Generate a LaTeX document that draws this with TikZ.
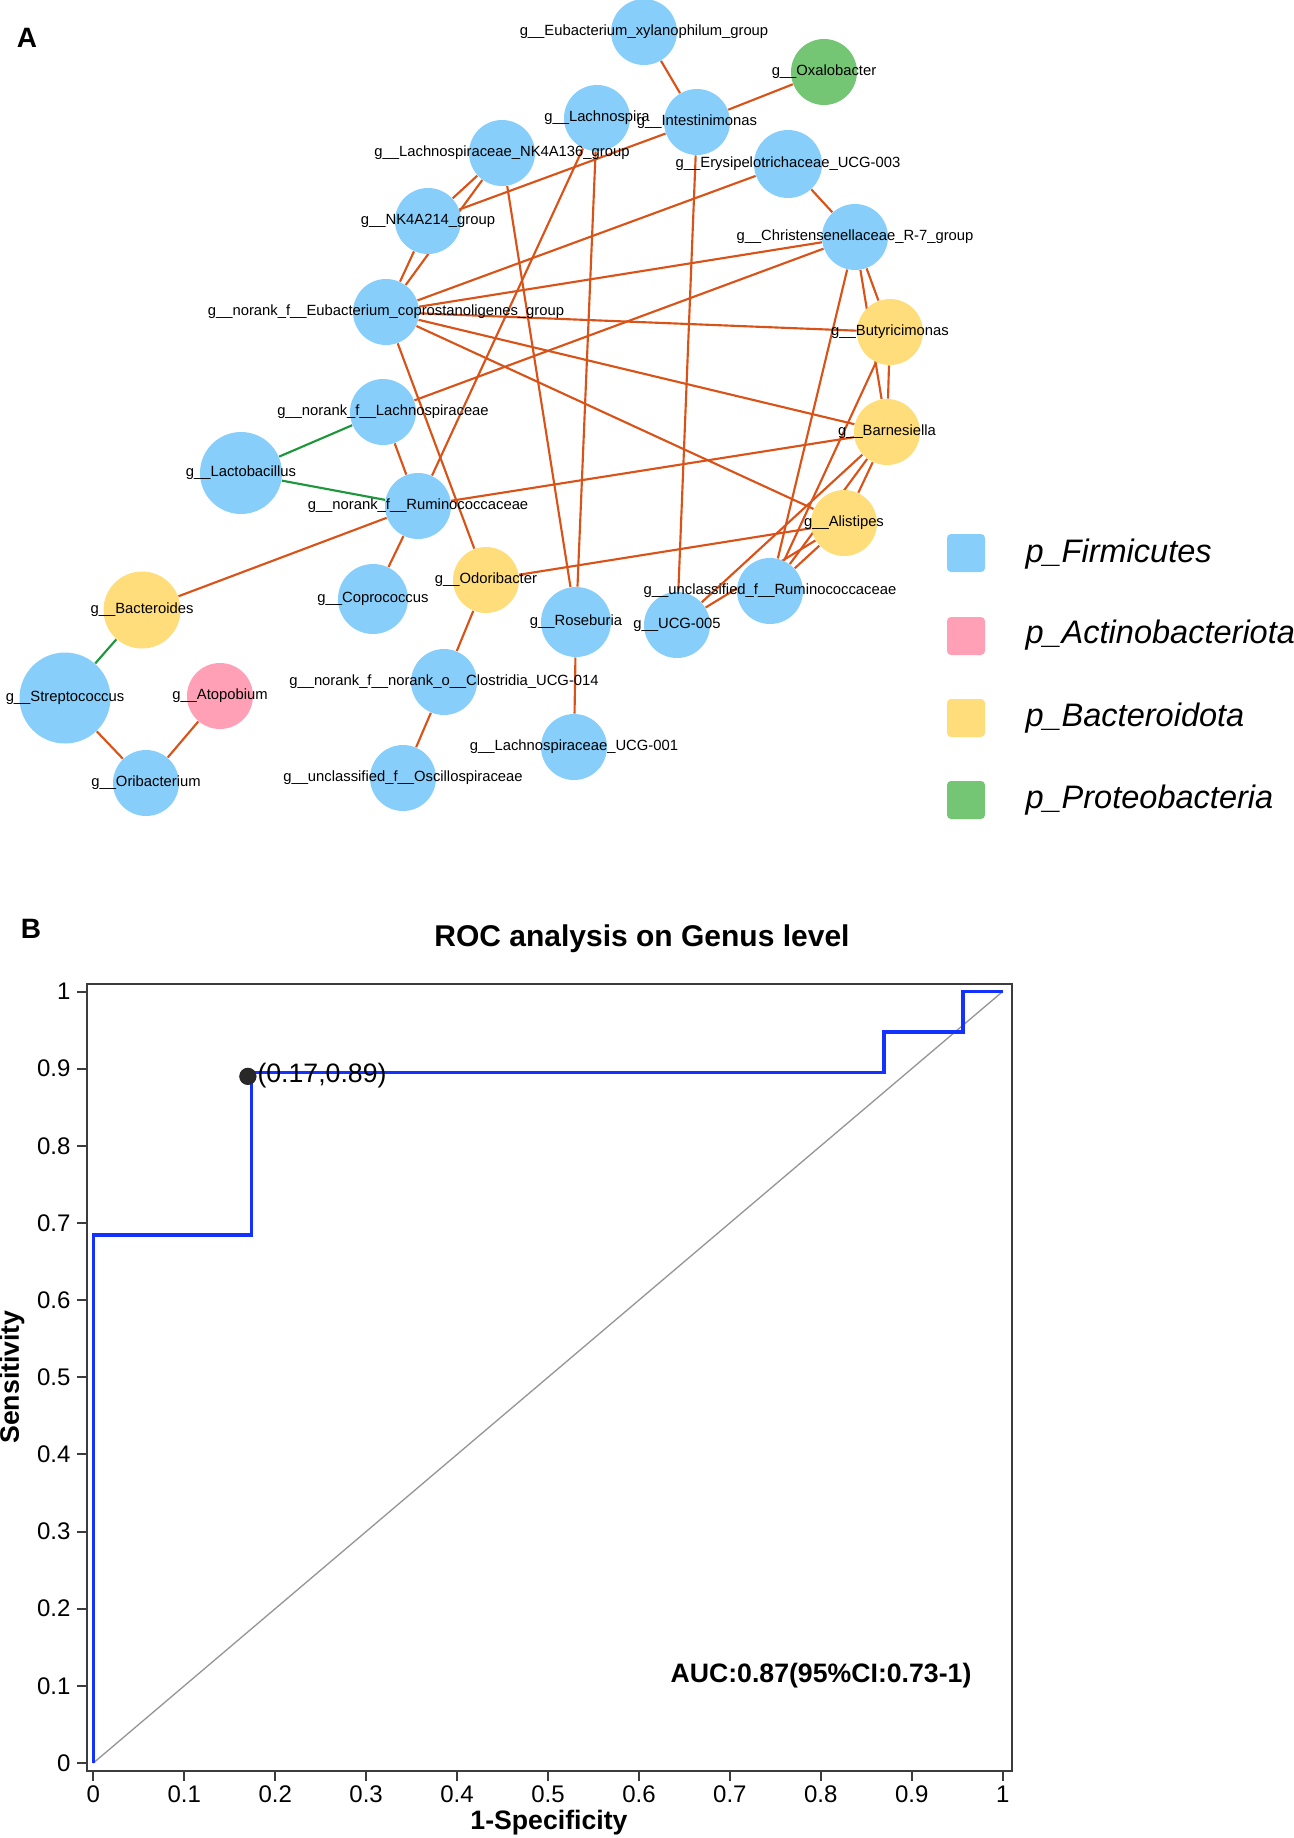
\documentclass[tikz,border=0pt]{standalone}
\usepackage{fontspec}
\setmainfont{Liberation Sans}
\usetikzlibrary{backgrounds}

\definecolor{firmblue}{RGB}{135,206,250}
\definecolor{actinopink}{RGB}{255,160,182}
\definecolor{bactyellow}{RGB}{255,221,122}
\definecolor{proteogreen}{RGB}{116,198,116}
\definecolor{edgeorange}{RGB}{217,83,25}
\definecolor{edgegreen}{RGB}{30,150,60}
\definecolor{rocblue}{RGB}{20,50,255}
\definecolor{boxgrey}{RGB}{60,60,60}
\definecolor{diaggrey}{RGB}{150,150,150}
\definecolor{dotgrey}{RGB}{40,40,40}

\tikzset{every picture/.style={line width=0.75pt}}

\begin{document}
\begin{tikzpicture}[x=0.75pt,y=0.75pt,yscale=-1,xscale=1,
	taxon/.style={circle,draw=none,inner sep=0pt,minimum size=49.5pt},
	firm/.style={taxon,fill=firmblue},
	actino/.style={taxon,fill=actinopink},
	bacter/.style={taxon,fill=bactyellow},
	proteo/.style={taxon,fill=proteogreen},
	glabel/.style={inner sep=0pt,font=\fontsize{11.1}{13}\selectfont},
	posedge/.style={draw=edgeorange,line width=1.6pt},
	negedge/.style={draw=edgegreen,line width=1.6pt},
	legbox/.style={draw=none,rounded corners=3pt,minimum size=28.5pt,inner sep=0pt},
	legtxt/.style={anchor=base west,inner sep=0pt,font=\fontsize{24.4}{28}\selectfont\itshape},
	panel/.style={inner sep=0pt,font=\fontsize{21}{24}\selectfont\bfseries},
	ticklbl/.style={inner sep=0pt,font=\fontsize{18}{21}\selectfont},
	axlbl/.style={inner sep=0pt,font=\fontsize{20}{23}\selectfont\bfseries},
	axisline/.style={draw=boxgrey,line width=1.5pt},
	roccurve/.style={draw=rocblue,line width=2.6pt},
	]
	\useasboundingbox (0,0) rectangle (1294,1838);
	
	%Panel A: co-occurrence network
	\node[panel] (pa) at (27,38) {A};
	
	%Shape: Circles
	\node[firm] (xyl) at (644,32) {};
	\node[proteo] (oxa) at (824,72) {};
	\node[firm] (lachsp) at (597,118) {};
	\node[firm] (intest) at (697,122) {};
	\node[firm] (nk136) at (502,153) {};
	\node[firm,minimum size=51pt] (erys) at (788,164) {};
	\node[firm] (nk214) at (428,221) {};
	\node[firm] (chris) at (855,237) {};
	\node[firm] (copro) at (386,312) {};
	\node[bacter] (butyr) at (890,332) {};
	\node[firm] (nlach) at (383,412) {};
	\node[bacter] (barn) at (887,432) {};
	\node[firm,minimum size=61.5pt] (lacto) at (241,473) {};
	\node[firm] (nrum) at (418,506) {};
	\node[bacter] (alis) at (844,523) {};
	\node[bacter] (odori) at (486,580) {};
	\node[firm,minimum size=52.5pt] (coproc) at (373,599) {};
	\node[firm] (urum) at (770,591) {};
	\node[bacter,minimum size=57.75pt] (bact) at (142,610) {};
	\node[firm,minimum size=52.5pt] (rose) at (576,622) {};
	\node[firm] (ucg5) at (677,625) {};
	\node[firm] (clos) at (444,682) {};
	\node[firm,minimum size=68.25pt] (strep) at (65,698) {};
	\node[actino] (atop) at (220,696) {};
	\node[firm] (lucg1) at (574,747) {};
	\node[firm] (osc) at (403,778) {};
	\node[firm] (orib) at (146,783) {};
	
	% Text Node
	\node[glabel] (xyl-t) at (xyl) {g\_\_Eubacterium\_xylanophilum\_group};
	\node[glabel] (oxa-t) at (oxa) {g\_\_Oxalobacter};
	\node[glabel] (lachsp-t) at (lachsp) {g\_\_Lachnospira};
	\node[glabel] (intest-t) at (intest) {g\_\_Intestinimonas};
	\node[glabel] (nk136-t) at (nk136) {g\_\_Lachnospiraceae\_NK4A136\_group};
	\node[glabel] (erys-t) at (erys) {g\_\_Erysipelotrichaceae\_UCG-003};
	\node[glabel] (nk214-t) at (nk214) {g\_\_NK4A214\_group};
	\node[glabel] (chris-t) at (chris) {g\_\_Christensenellaceae\_R-7\_group};
	\node[glabel] (copro-t) at (copro) {g\_\_norank\_f\_\_Eubacterium\_coprostanoligenes\_group};
	\node[glabel] (butyr-t) at (butyr) {g\_\_Butyricimonas};
	\node[glabel] (nlach-t) at (nlach) {g\_\_norank\_f\_\_Lachnospiraceae};
	\node[glabel] (barn-t) at (barn) {g\_\_Barnesiella};
	\node[glabel] (lacto-t) at (lacto) {g\_\_Lactobacillus};
	\node[glabel] (nrum-t) at (nrum) {g\_\_norank\_f\_\_Ruminococcaceae};
	\node[glabel] (alis-t) at (alis) {g\_\_Alistipes};
	\node[glabel] (odori-t) at (odori) {g\_\_Odoribacter};
	\node[glabel] (coproc-t) at (coproc) {g\_\_Coprococcus};
	\node[glabel] (urum-t) at (urum) {g\_\_unclassified\_f\_\_Ruminococcaceae};
	\node[glabel] (bact-t) at (bact) {g\_\_Bacteroides};
	\node[glabel] (rose-t) at (rose) {g\_\_Roseburia};
	\node[glabel] (ucg5-t) at (ucg5) {g\_\_UCG-005};
	\node[glabel] (clos-t) at (clos) {g\_\_norank\_f\_\_norank\_o\_\_Clostridia\_UCG-014};
	\node[glabel] (strep-t) at (strep) {g\_\_Streptococcus};
	\node[glabel] (atop-t) at (atop) {g\_\_Atopobium};
	\node[glabel] (lucg1-t) at (lucg1) {g\_\_Lachnospiraceae\_UCG-001};
	\node[glabel] (osc-t) at (osc) {g\_\_unclassified\_f\_\_Oscillospiraceae};
	\node[glabel] (orib-t) at (orib) {g\_\_Oribacterium};
	
	%Straight Lines
	\begin{scope}[on background layer]
		\draw[posedge] (xyl) -- (intest);
		\draw[posedge] (intest) -- (oxa);
		\draw[posedge] (nk214) -- (intest);
		\draw[posedge] (nk136) -- (nk214);
		\draw[posedge] (nk136) -- (copro);
		\draw[posedge] (nk214) -- (copro);
		\draw[posedge] (nk136) -- (rose);
		\draw[posedge] (lachsp) -- (rose);
		\draw[posedge] (lachsp) -- (nrum);
		\draw[posedge] (intest) -- (ucg5);
		\draw[posedge] (erys) -- (chris);
		\draw[posedge] (copro) -- (erys);
		\draw[posedge] (copro) -- (chris);
		\draw[posedge] (copro) -- (butyr);
		\draw[posedge] (copro) -- (barn);
		\draw[posedge] (copro) -- (alis);
		\draw[posedge] (copro) -- (odori);
		\draw[posedge] (chris) -- (butyr);
		\draw[posedge] (chris) -- (barn);
		\draw[posedge] (chris) -- (urum);
		\draw[posedge] (chris) -- (nlach);
		\draw[posedge] (butyr) -- (barn);
		\draw[posedge] (butyr) -- (urum);
		\draw[posedge] (barn) -- (alis);
		\draw[posedge] (barn) -- (urum);
		\draw[posedge] (barn) -- (ucg5);
		\draw[posedge] (alis) -- (urum);
		\draw[posedge] (alis) -- (ucg5);
		\draw[posedge] (nrum) -- (barn);
		\draw[posedge] (odori) -- (alis);
		\draw[posedge] (nlach) -- (nrum);
		\draw[posedge] (nrum) -- (coproc);
		\draw[posedge] (nrum) -- (bact);
		\draw[posedge] (strep) -- (orib);
		\draw[posedge] (orib) -- (atop);
		\draw[posedge] (odori) -- (clos);
		\draw[posedge] (clos) -- (osc);
		\draw[posedge] (rose) -- (lucg1);
		\draw[negedge] (lacto) -- (nlach);
		\draw[negedge] (lacto) -- (nrum);
		\draw[negedge] (bact) -- (strep);
	\end{scope}
	
	%Legend
	\node[legbox,fill=firmblue] (lg1) at (966,553) {};
	\node[legbox,fill=actinopink] (lg2) at (966,636) {};
	\node[legbox,fill=bactyellow] (lg3) at (966,718) {};
	\node[legbox,fill=proteogreen] (lg4) at (966,800) {};
	\node[legtxt] (lg1-t) at (1025,562) {p\_Firmicutes};
	\node[legtxt] (lg2-t) at (1025,643) {p\_Actinobacteriota};
	\node[legtxt] (lg3-t) at (1025,726) {p\_Bacteroidota};
	\node[legtxt] (lg4-t) at (1025,808) {p\_Proteobacteria};
	
	%Panel B: ROC curve
	\node[panel] (pb) at (31,929) {B};
	\node[inner sep=0pt,font=\fontsize{22.5}{26}\selectfont\bfseries] (roctitle) at (642,939) {ROC analysis on Genus level};
	\draw[axisline] (87,984) rectangle (1012,1771);
	\foreach \t [count=\i from 0] in {0,0.1,0.2,0.3,0.4,0.5,0.6,0.7,0.8,0.9,1} {
		\pgfmathsetmacro{\xx}{93.3+90.94*\i}
		\pgfmathsetmacro{\yy}{1763-77.15*\i}
		\draw[axisline] (\xx,1771) -- (\xx,1781);
		\node[ticklbl,anchor=north] (xt\i) at (\xx,1785) {\t};
		\draw[axisline] (77,\yy) -- (87,\yy);
		\node[ticklbl,anchor=east] (yt\i) at (71,\yy) {\t};
	}
	\begin{scope}[shift={(93.3,1763)},xscale=909.4,yscale=-771.5]
		\draw[draw=diaggrey,line width=1pt] (0,0) -- (1,1);
		\draw[roccurve] (0,0) -- (0,13/19) -- (4/23,13/19) -- (4/23,17/19) -- (20/23,17/19) -- (20/23,18/19) -- (22/23,18/19) -- (22/23,1) -- (1,1);
		\node[circle,fill=dotgrey,inner sep=0pt,minimum size=13pt] (cut) at (0.17,0.89) {};
	\end{scope}
	\node[anchor=west,inner sep=0pt,font=\fontsize{20}{23}\selectfont] (cut-t) at (257,1076) {(0.17,0.89)};
	\node[axlbl] (auc) at (821,1676) {AUC:0.87(95\%CI:0.73-1)};
	\node[axlbl] (xlab) at (549,1823) {1-Specificity};
	\node[axlbl,rotate=90] (ylab) at (12,1377) {Sensitivity};
	
\end{tikzpicture}
\end{document}
